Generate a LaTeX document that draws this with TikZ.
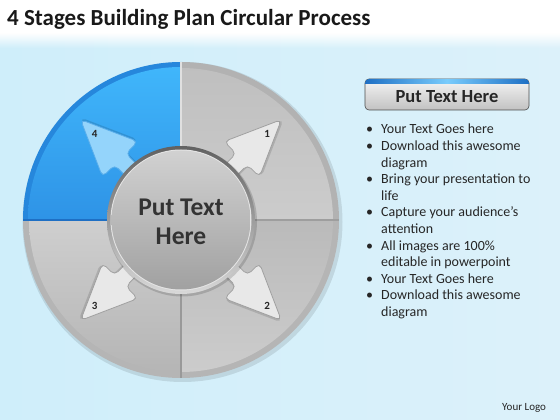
\documentclass[tikz,border=0pt]{standalone}
\usepackage{fontspec}
\setmainfont{Carlito}
\usetikzlibrary{fadings}
\definecolor{bgL}{HTML}{CFEEFA}
\definecolor{bgM}{HTML}{F0F9FD}
\definecolor{bgR}{HTML}{DCF1FA}
\definecolor{blueA}{HTML}{40B6FB}
\definecolor{blueB}{HTML}{2E93E6}
\definecolor{blueRim}{HTML}{2687DC}
\definecolor{blueLine}{HTML}{1E6FC4}
\definecolor{grayRim}{HTML}{B2B2B2}
\definecolor{arrowFill}{HTML}{E8E8E8}
\definecolor{arrowDraw}{HTML}{A0A0A0}
\definecolor{arrowBlue}{HTML}{94D4FB}
\definecolor{arrowBlueDraw}{HTML}{5AAEEB}
\definecolor{txt}{HTML}{262626}
\tikzset{
  numlabel/.style={font=\fontsize{11}{12}\selectfont\bfseries, text=txt, inner sep=0pt},
  bultext/.style={font=\fontsize{14}{16}\selectfont, text=txt, inner sep=0pt, anchor=base west},
  stagearrowpath/.style={line width=0.8pt, rounded corners=5pt},
}
\newcommand\stagearrow[4]{%
  \begin{scope}[shift={(C)},rotate=#1]
    \fill[black,opacity=0.12,rounded corners=5pt,shift={(1.5,-1.5)}] (55,-8) -- (86,-8) -- (86,-25) -- (142,0) -- (86,25) -- (86,8) -- (55,8) -- cycle;
    \draw[stagearrowpath,fill=#2,draw=#3] (55,-8) -- (86,-8) -- (86,-25) -- (142,0) -- (86,25) -- (86,8) -- (55,8) -- cycle;
    \node[numlabel] (n#4) at (122,0) {#4};
  \end{scope}}
\begin{document}
\begin{tikzpicture}[x=1pt,y=1pt]
\useasboundingbox (0,0) rectangle (560,420);
\fill[white] (0,0) rectangle (560,420);
\shade[left color=bgL, middle color=bgM, right color=bgR] (0,0) rectangle (560,386);
\fill[white, path fading=south] (0,372) rectangle (560,387);

% title
\node[anchor=base west, inner sep=0pt, font=\fontsize{23}{27}\selectfont\bfseries, text=black!90] (title) at (7,394) {4 Stages Building Plan Circular Process};

% circle
\coordinate (C) at (181,200);
\fill[black,opacity=0.10] ([shift={(1.5,-2)}]C) circle (160);
% top-left blue
\fill[blueRim] (C) -- ++(90:158) arc[start angle=90,end angle=180,radius=158] -- cycle;
\shade[top color=blueA, bottom color=blueB] (C) -- ++(90:153) arc[start angle=90,end angle=180,radius=153] -- cycle;
% top-right
\fill[grayRim] (C) -- ++(0:158) arc[start angle=0,end angle=90,radius=158] -- cycle;
\shade[top color=black!25, bottom color=black!20] (C) -- ++(0:152) arc[start angle=0,end angle=90,radius=152] -- cycle;
% bottom-right
\fill[black!29] (C) -- ++(270:158) arc[start angle=270,end angle=360,radius=158] -- cycle;
\shade[top color=black!27, bottom color=black!20] (C) -- ++(270:152) arc[start angle=270,end angle=360,radius=152] -- cycle;
% bottom-left
\fill[black!29] (C) -- ++(180:158) arc[start angle=180,end angle=270,radius=158] -- cycle;
\shade[top color=black!19, bottom color=black!29] (C) -- ++(180:152) arc[start angle=180,end angle=270,radius=152] -- cycle;
% dividers
\draw[blueLine, line width=1.6pt] ([xshift=-158pt]C) -- (C);
\draw[black!38, line width=1.6pt] (C) -- ([xshift=158pt]C);
\draw[black!12, line width=1.2pt] (C) -- ([yshift=158pt]C);
\draw[black!40, line width=1.6pt] (C) -- ([yshift=-158pt]C);

% arrows with their numbers
\stagearrow{45}{arrowFill}{arrowDraw}{1}
\stagearrow{135}{arrowBlue}{arrowBlueDraw}{4}
\stagearrow{225}{arrowFill}{arrowDraw}{3}
\stagearrow{315}{arrowFill}{arrowDraw}{2}

% inner disc
\fill[black,opacity=0.15] ([shift={(1,-1.5)}]C) circle (75);
\shade[top color=black!62, bottom color=black!15] (C) circle (74);
\fill[white!90!black] (C) circle (70.5);
\shade[top color=black!18, middle color=black!28, bottom color=black!37] (C) circle (69.5);
\node[align=center, font=\fontsize{25.5}{29}\selectfont\bfseries, text=black!80] (center) at ([yshift=-2pt]C) {Put Text\\Here};

% header box
\shade[top color=black!4, bottom color=black!24, rounded corners=4pt, draw=black!70, line width=0.6pt] (365,310) rectangle (529,341);
\begin{scope}
  \clip[rounded corners=4pt] (365,310) rectangle (529,341);
  \shade[left color=blueLine, right color=blueLine, middle color=blueA!70!white] (365,336.5) rectangle (529,341);
\end{scope}
\node[font=\fontsize{18.5}{22}\selectfont\bfseries, text=txt, inner sep=0pt] (head) at (447,323) {Put Text Here};

% bullet list
\foreach \i/\b/\t in {0/1/Your Text Goes here, 1/1/Download this awesome, 2/0/diagram, 3/1/Bring your presentation to, 4/0/life, 5/1/Capture your audience’s, 6/0/attention, 7/1/All images are 100\%, 8/0/editable in powerpoint, 9/1/Your Text Goes here, 10/1/Download this awesome, 11/0/diagram}{
  \node[bultext] (b\i) at (381,{286-16.6*\i}) {\t};
  \ifnum\b=1 \node[bultext] (d\i) at (366,{286-16.6*\i}) {\textbullet}; \fi
}

\node[anchor=base west, inner sep=0pt, font=\fontsize{11}{13}\selectfont, text=txt] (logo) at (502,9) {Your Logo};
\end{tikzpicture}
\end{document}
